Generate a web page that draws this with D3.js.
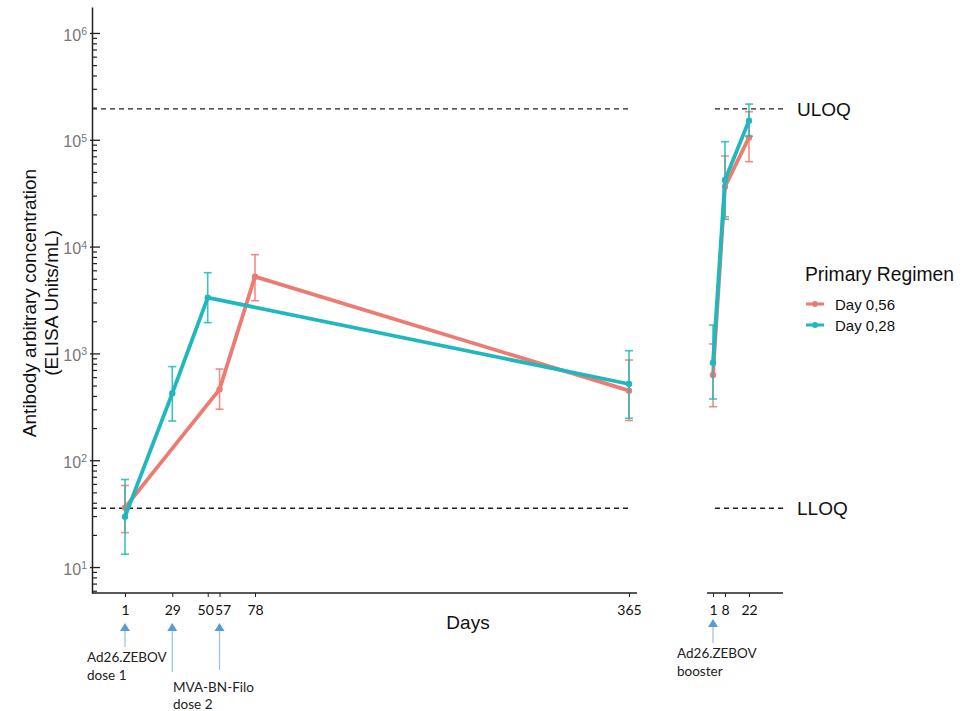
<!DOCTYPE html>
<html>
<head>
<meta charset="utf-8">
<script src="https://cdn.jsdelivr.net/npm/d3@7"></script>
<style>
  body { margin: 0; background: #fff; }
  text { font-family: "Liberation Sans", Arial, sans-serif; }
  .cal { font-family: Lato, "Open Sans", sans-serif; }
</style>
</head>
<body>
<div id="container"></div>
<script>
// primary regimen, days after first dose
const redDays = [1, 57, 78, 365];
const redVals = [36, 461, 5230, 448];
const redLo = [21, 300, 3110, 235];
const redHi = [58, 714, 8400, 867];

const tealDays = [1, 29, 50, 365];
const tealVals = [29.6, 423, 3330, 517];
const tealLo = [13.2, 233, 1940, 247];
const tealHi = [66, 752, 5700, 1060];

// booster, days after booster
const boostDays = [1, 8, 22];
const redBoostVals = [628, 36400, 105000];
const redBoostLo = [317, 19000, 62400];
const redBoostHi = [1225, 70500, 183000];
const tealBoostVals = [818, 42000, 151000];
const tealBoostLo = [374, 18000, 108000];
const tealBoostHi = [1845, 96000, 216000];

const mainTicks = [1, 29, 50, 57, 78, 365];
const boostTicks = [1, 8, 22];
const ULOQ = 195000;
const LLOQ = 35.5;

const seriesNames = ["Day 0,56", "Day 0,28"];
const colors = ["#ec7c71", "#1fb8bc"];

const width = 966, height = 711;
const svg = d3.select("#container").append("svg")
  .attr("width", width).attr("height", height);

svg.append("rect").attr("width", width).attr("height", height).attr("fill", "#fff");

// scales
const y = d3.scaleLog().domain([Math.pow(10, 0.757), Math.pow(10, 6.243)]).range([593, 7]);
const x = d3.scaleLinear().domain([1, 78, 365]).range([125, 255, 629]);
const xb = d3.scaleLinear().domain([1, 22]).range([713, 749]);

// y axis
const majors = [10, 100, 1000, 1e4, 1e5, 1e6];
const minors = [];
for (let e = 0; e <= 6; e++) {
  for (let m = 2; m <= 9; m++) {
    const v = m * Math.pow(10, e);
    if (v > y.domain()[0] && v < y.domain()[1]) minors.push(v);
  }
}
const yAxis = svg.append("g").attr("transform", "translate(92,0)")
  .call(d3.axisLeft(y).tickValues(majors).tickSizeInner(-8).tickSizeOuter(0).tickPadding(5));
yAxis.select(".domain").attr("stroke", "#222").attr("stroke-width", 1.5);
yAxis.selectAll(".tick line").attr("stroke", "#222").attr("stroke-width", 1.3)
  .attr("x1", -2);
yAxis.selectAll(".tick text").each(function (d) {
  const t = d3.select(this);
  t.text("").attr("fill", "#777").attr("font-size", 16).attr("dy", "0.45em");
  t.append("tspan").text("10");
  t.append("tspan").attr("dy", "-0.55em").attr("font-size", 10.5).text(Math.round(Math.log10(d)));
});
svg.append("g").attr("transform", "translate(92,0)")
  .call(d3.axisLeft(y).tickValues(minors).tickSizeInner(-5).tickSizeOuter(0).tickFormat(""))
  .call(g => g.select(".domain").remove())
  .selectAll(".tick line").attr("stroke", "#222").attr("stroke-width", 1.2);

// x axes
function xAxis(scale, ticks, x0, x1) {
  const g = svg.append("g").attr("transform", "translate(0,593)")
    .call(d3.axisBottom(scale).tickValues(ticks).tickSizeInner(4).tickSizeOuter(0).tickPadding(8));
  g.select(".domain").attr("d", `M${x0},0H${x1}`).attr("stroke", "#222").attr("stroke-width", 1.5);
  g.selectAll(".tick line").attr("stroke", "#222");
  g.selectAll(".tick text").attr("class", "cal").attr("font-size", 14).attr("fill", "#111")
    .attr("dx", d => d === 50 ? -2.5 : d === 57 ? 3 : 0);
}
xAxis(x, mainTicks, 92, 637);
xAxis(xb, boostTicks, 707, 783);

// LOQ lines
[[ULOQ, "ULOQ"], [LLOQ, "LLOQ"]].forEach(([v, lab]) => {
  svg.append("line").attr("x1", 92).attr("x2", 628).attr("y1", y(v)).attr("y2", y(v))
    .attr("stroke", "#222").attr("stroke-width", 1.3).attr("stroke-dasharray", "5,4");
  svg.append("line").attr("x1", 715).attr("x2", 784).attr("y1", y(v)).attr("y2", y(v))
    .attr("stroke", "#222").attr("stroke-width", 1.3).attr("stroke-dasharray", "5,4");
  svg.append("text").attr("x", 797).attr("y", y(v) + 7).attr("font-size", 19)
    .attr("fill", "#111").text(lab);
});

// series
function drawSeries(scale, days, vals, lo, hi, color) {
  const g = svg.append("g");
  days.forEach((d, i) => {
    const cx = scale(d);
    g.append("line").attr("x1", cx).attr("x2", cx).attr("y1", y(lo[i])).attr("y2", y(hi[i]))
      .attr("stroke", color).attr("stroke-width", 1.6).attr("opacity", 0.85);
    [lo[i], hi[i]].forEach(v => {
      g.append("line").attr("x1", cx - 4).attr("x2", cx + 4).attr("y1", y(v)).attr("y2", y(v))
        .attr("stroke", color).attr("stroke-width", 1.6).attr("opacity", 0.85);
    });
  });
  const line = d3.line().x((d, i) => scale(days[i])).y(d => y(d));
  g.append("path").datum(vals).attr("d", line).attr("fill", "none")
    .attr("stroke", color).attr("stroke-width", 3.8).attr("stroke-linejoin", "round");
  g.selectAll("circle").data(vals).join("circle")
    .attr("cx", (d, i) => scale(days[i])).attr("cy", d => y(d)).attr("r", 3.2)
    .attr("fill", color);
}
drawSeries(x, redDays, redVals, redLo, redHi, colors[0]);
drawSeries(xb, boostDays, redBoostVals, redBoostLo, redBoostHi, colors[0]);
drawSeries(x, tealDays, tealVals, tealLo, tealHi, colors[1]);
drawSeries(xb, boostDays, tealBoostVals, tealBoostLo, tealBoostHi, colors[1]);

// axis titles
svg.append("text").attr("transform", "translate(36,303) rotate(-90)")
  .attr("text-anchor", "middle").attr("font-size", 19).attr("fill", "#111")
  .text("Antibody arbitrary concentration");
svg.append("text").attr("transform", "translate(58,303) rotate(-90)")
  .attr("text-anchor", "middle").attr("font-size", 19).attr("fill", "#111")
  .text("(ELISA Units/mL)");
svg.append("text").attr("x", 468).attr("y", 629).attr("text-anchor", "middle")
  .attr("font-size", 19).attr("fill", "#111").text("Days");

// legend
svg.append("text").attr("x", 805).attr("y", 281).attr("font-size", 19.3).attr("fill", "#111")
  .text("Primary Regimen");
seriesNames.forEach((n, i) => {
  const ly = 304 + i * 21;
  svg.append("line").attr("x1", 806).attr("x2", 824).attr("y1", ly).attr("y2", ly)
    .attr("stroke", colors[i]).attr("stroke-width", 3);
  svg.append("circle").attr("cx", 815).attr("cy", ly).attr("r", 3).attr("fill", colors[i]);
  svg.append("text").attr("x", 835).attr("y", ly + 5.5).attr("font-size", 15).attr("fill", "#111").text(n);
});

// dose annotations
const arrows = [
  { xpos: x(1), top: 623, bottom: 647 },
  { xpos: x(29), top: 623, bottom: 672 },
  { xpos: x(57), top: 623, bottom: 670 },
  { xpos: xb(1), top: 619, bottom: 643 }
];
arrows.forEach(a => {
  svg.append("line").attr("x1", a.xpos).attr("x2", a.xpos).attr("y1", a.bottom).attr("y2", a.top + 6)
    .attr("stroke", "#9cc3e6").attr("stroke-width", 1.3);
  svg.append("path").attr("d", `M${a.xpos - 5},${a.top + 8}L${a.xpos},${a.top}L${a.xpos + 5},${a.top + 8}Z`)
    .attr("fill", "#5b9bd5");
});

const notes = [
  { x: 87, y: 662, t: "Ad26.ZEBOV" }, { x: 87, y: 680, t: "dose 1" },
  { x: 173, y: 692, t: "MVA-BN-Filo" }, { x: 173, y: 709, t: "dose 2" },
  { x: 677, y: 658, t: "Ad26.ZEBOV" }, { x: 677, y: 676, t: "booster" }
];
notes.forEach(n => {
  svg.append("text").attr("class", "cal").attr("x", n.x).attr("y", n.y)
    .attr("font-size", 13.5).attr("fill", "#222").text(n.t);
});
</script>
</body>
</html>
